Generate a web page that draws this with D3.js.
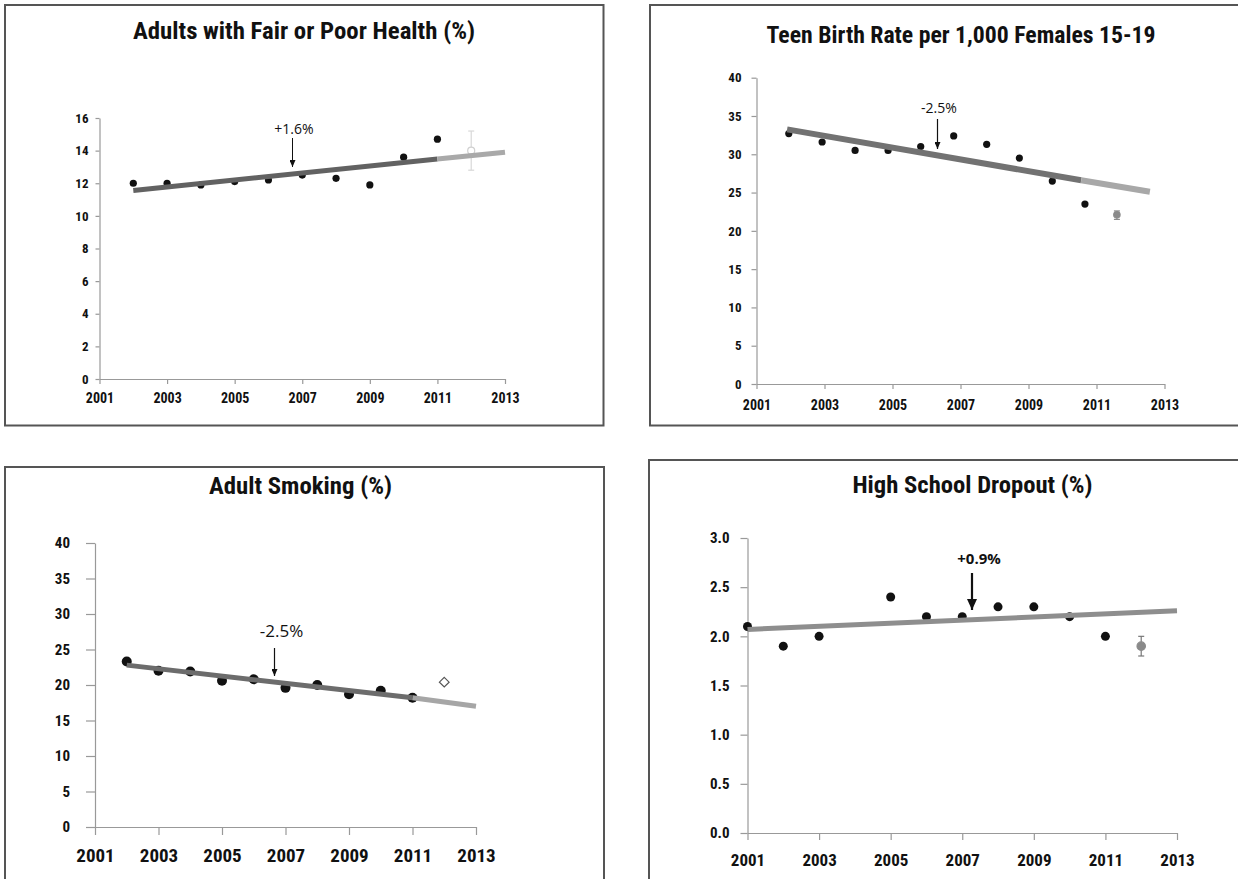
<!DOCTYPE html>
<html>
<head>
<meta charset="utf-8">
<script src="https://cdn.jsdelivr.net/npm/d3@7"></script>
<style>
  html, body { margin: 0; padding: 0; background: #fff; }
  svg { display: block; }
  text { font-family: "Liberation Sans Narrow", "Roboto Condensed", "Roboto", sans-serif; }
</style>
</head>
<body>
<svg id="chart" width="1238" height="879"></svg>
<script>
// ---------- DATA ----------
const xTickYears = [2001, 2003, 2005, 2007, 2009, 2011, 2013];

// Panel 1: Adults with Fair or Poor Health (%)
const healthTitle = "Adults with Fair or Poor Health (%)";
const healthYears = [2002, 2003, 2004, 2005, 2006, 2007, 2008, 2009, 2010, 2011];
const healthValues = [12.0, 12.0, 11.9, 12.1, 12.2, 12.5, 12.3, 11.9, 13.6, 14.7];
const healthEstYear = 2012, healthEstValue = 14.0, healthEstLow = 12.8, healthEstHigh = 15.2;
const healthTrendYears = [2002, 2011, 2013];
const healthTrendValues = [11.55, 13.49, 13.9];
const healthYTicks = [0, 2, 4, 6, 8, 10, 12, 14, 16];
const healthNote = "+1.6%";

// Panel 2: Teen Birth Rate per 1,000 Females 15-19
const teenTitle = "Teen Birth Rate per 1,000 Females 15-19";
const teenYears = [2001.95, 2002.93, 2003.9, 2004.87, 2005.83, 2006.8, 2007.77, 2008.73, 2009.7, 2010.66];
const teenValues = [32.7, 31.6, 30.5, 30.5, 31.0, 32.4, 31.3, 29.5, 26.5, 23.5];
const teenEstYear = 2011.6, teenEstValue = 22.1, teenEstLow = 21.5, teenEstHigh = 22.6;
const teenTrendYears = [2001.9, 2010.55, 2012.57];
const teenTrendValues = [33.25, 26.6, 25.1];
const teenYTicks = [0, 5, 10, 15, 20, 25, 30, 35, 40];
const teenNote = "-2.5%";

// Panel 3: Adult Smoking (%)
const smokeTitle = "Adult Smoking (%)";
const smokeYears = [2002, 2003, 2004, 2005, 2006, 2007, 2008, 2009, 2010, 2011];
const smokeValues = [23.3, 22.0, 21.9, 20.6, 20.8, 19.6, 20.0, 18.7, 19.2, 18.2];
const smokeEstYear = 2012, smokeEstValue = 20.4;
const smokeTrendYears = [2002, 2011, 2013];
const smokeTrendValues = [22.8, 18.2, 17.0];
const smokeYTicks = [0, 5, 10, 15, 20, 25, 30, 35, 40];
const smokeNote = "-2.5%";

// Panel 4: High School Dropout (%)
const dropTitle = "High School Dropout (%)";
const dropYears = [2001, 2002, 2003, 2005, 2006, 2007, 2008, 2009, 2010, 2011];
const dropValues = [2.1, 1.9, 2.0, 2.4, 2.2, 2.2, 2.3, 2.3, 2.2, 2.0];
const dropEstYear = 2012, dropEstValue = 1.9, dropEstLow = 1.8, dropEstHigh = 2.0;
const dropTrendYears = [2001, 2013];
const dropTrendValues = [2.07, 2.26];
const dropYTicks = [0, 0.5, 1.0, 1.5, 2.0, 2.5, 3.0];
const dropNote = "+0.9%";

// ---------- DRAWING ----------
const svg = d3.select("#chart");

const defs = svg.append("defs");
function marker(id, w, h) {
  defs.append("marker")
    .attr("id", id).attr("viewBox", `0 0 ${w} ${h}`)
    .attr("refX", w / 2).attr("refY", h)
    .attr("markerWidth", w).attr("markerHeight", h)
    .attr("markerUnits", "userSpaceOnUse")
    .attr("orient", "0")
    .append("path").attr("d", `M0,0 L${w},0 L${w/2},${h} Z`).attr("fill", "#111");
}
marker("headSmall", 6, 7);
marker("headBig", 10, 11);

function panel(cfg) {
  const g = svg.append("g");
  // border
  g.append("rect")
    .attr("x", cfg.box[0]).attr("y", cfg.box[1])
    .attr("width", cfg.box[2] - cfg.box[0]).attr("height", cfg.box[3] - cfg.box[1])
    .attr("fill", "none").attr("stroke", "#555").attr("stroke-width", 2);
  // title
  g.append("text")
    .attr("x", cfg.title.x).attr("y", cfg.title.y)
    .attr("text-anchor", "middle")
    .attr("font-size", 23).attr("font-weight", "bold").attr("fill", "#111")
    .attr("textLength", cfg.title.w).attr("lengthAdjust", "spacingAndGlyphs")
    .text(cfg.title.text);

  const x = d3.scaleLinear().domain([2001, 2013]).range([cfg.x0, cfg.x1]);
  const y = d3.scaleLinear().domain(cfg.yDomain).range([cfg.yBottom, cfg.yTop]);

  const xAxis = d3.axisBottom(x).tickValues(xTickYears).tickFormat(d3.format("d"))
    .tickSizeInner(cfg.xTick).tickSizeOuter(0).tickPadding(cfg.xPad);
  const yAxis = d3.axisLeft(y).tickValues(cfg.yTicks).tickFormat(cfg.yFmt)
    .tickSizeInner(cfg.yTick).tickSizeOuter(0).tickPadding(cfg.yPad);

  const gx = g.append("g").attr("transform", `translate(0,${cfg.yBottom})`).call(xAxis);
  const gy = g.append("g").attr("transform", `translate(${cfg.x0},0)`).call(yAxis);
  [gx, gy].forEach(a => {
    a.select(".domain").attr("stroke", "#999").attr("stroke-width", 1.2);
    a.selectAll(".tick line").attr("stroke", "#999").attr("stroke-width", 1.2);
    a.selectAll("text").attr("fill", "#111").attr("font-weight", "bold")
      .style("font-family", '"Liberation Sans Narrow", "Roboto Condensed", "Roboto", sans-serif');
  });
  gx.selectAll("text").attr("font-size", cfg.xFont);
  gy.selectAll("text").attr("font-size", cfg.yFont);

  // points
  g.append("g").selectAll("circle")
    .data(cfg.years.map((yr, i) => [yr, cfg.values[i]]))
    .join("circle")
    .attr("cx", d => x(d[0])).attr("cy", d => y(d[1]))
    .attr("r", cfg.r).attr("fill", "#111");

  // estimate with error bar
  if (cfg.est) {
    const e = cfg.est;
    const ex = x(e.year);
    if (e.low != null) {
      const eg = g.append("g").attr("stroke", e.barColor).attr("stroke-width", 1.2);
      eg.append("line").attr("x1", ex).attr("x2", ex).attr("y1", y(e.low)).attr("y2", y(e.high));
      eg.append("line").attr("x1", ex - 3).attr("x2", ex + 3).attr("y1", y(e.low)).attr("y2", y(e.low));
      eg.append("line").attr("x1", ex - 3).attr("x2", ex + 3).attr("y1", y(e.high)).attr("y2", y(e.high));
    }
    if (e.shape === "diamond") {
      g.append("path")
        .attr("d", d3.symbol().type(d3.symbolDiamond2).size(60)())
        .attr("transform", `translate(${ex},${y(e.value)})`)
        .attr("fill", "#fff").attr("stroke", "#555").attr("stroke-width", 1.2);
    } else {
      g.append("circle").attr("cx", ex).attr("cy", y(e.value)).attr("r", e.r)
        .attr("fill", e.fill).attr("stroke", e.stroke).attr("stroke-width", 1.2);
    }
  }

  // trend line segments
  for (let i = 0; i < cfg.trendYears.length - 1; i++) {
    g.append("line")
      .attr("x1", x(cfg.trendYears[i])).attr("y1", y(cfg.trendValues[i]))
      .attr("x2", x(cfg.trendYears[i + 1])).attr("y2", y(cfg.trendValues[i + 1]))
      .attr("stroke", cfg.trendColors[i]).attr("stroke-width", cfg.trendWidth);
  }

  // annotation
  const n = cfg.note;
  g.append("text").attr("x", n.tx).attr("y", n.ty).attr("text-anchor", "middle")
    .attr("font-size", n.size).attr("font-weight", n.weight).attr("fill", "#111")
    .style("font-family", '"Liberation Sans Narrow", "Open Sans", sans-serif')
    .text(n.text);
  g.append("line").attr("x1", n.ax).attr("x2", n.ax).attr("y1", n.ay1).attr("y2", n.ay2 - n.head)
    .attr("stroke", "#111").attr("stroke-width", n.sw)
    .attr("marker-end", `url(#${n.marker})`);
}

panel({
  box: [5, 5, 603.5, 425.5],
  title: { text: healthTitle, x: 304, y: 39, w: 342 },
  x0: 99.5, x1: 505, yBottom: 379, yTop: 118, yDomain: [0, 16],
  yTicks: healthYTicks, yFmt: d3.format("d"),
  xTick: 5, xPad: 9, yTick: 4, yPad: 7, xFont: 14, yFont: 13,
  years: healthYears, values: healthValues, r: 3.6,
  est: { year: healthEstYear, value: healthEstValue, low: healthEstLow, high: healthEstHigh,
         barColor: "#d8d8d8", fill: "#fff", stroke: "#d0d0d0", r: 3.5 },
  trendYears: healthTrendYears, trendValues: healthTrendValues,
  trendColors: ["#626262", "#a9a9a9"], trendWidth: 5,
  note: { text: healthNote, tx: 294, ty: 134, size: 14, weight: "normal",
          ax: 292.5, ay1: 138, ay2: 167, head: 0, sw: 1, marker: "headSmall" }
});

panel({
  box: [650, 5, 1245, 425.5],
  title: { text: teenTitle, x: 961, y: 43, w: 389 },
  x0: 756.5, x1: 1164.5, yBottom: 384, yTop: 77.7, yDomain: [0, 40],
  yTicks: teenYTicks, yFmt: d3.format("d"),
  xTick: 5, xPad: 11, yTick: 5, yPad: 10, xFont: 14, yFont: 13,
  years: teenYears, values: teenValues, r: 3.6,
  est: { year: teenEstYear, value: teenEstValue, low: teenEstLow, high: teenEstHigh,
         barColor: "#888", fill: "#8a8a8a", stroke: "#8a8a8a", r: 3.2 },
  trendYears: teenTrendYears, trendValues: teenTrendValues,
  trendColors: ["#727272", "#a8a8a8"], trendWidth: 6,
  note: { text: teenNote, tx: 939, ty: 113, size: 14, weight: "normal",
          ax: 937.5, ay1: 119, ay2: 149, head: 0, sw: 1.2, marker: "headSmall" }
});

panel({
  box: [5, 467, 604, 885],
  title: { text: smokeTitle, x: 300.5, y: 494, w: 183 },
  x0: 95, x1: 476, yBottom: 827, yTop: 543, yDomain: [0, 40],
  yTicks: smokeYTicks, yFmt: d3.format("d"),
  xTick: 8, xPad: 14, yTick: 9, yPad: 16, xFont: 19, yFont: 15,
  years: smokeYears, values: smokeValues, r: 5,
  est: { year: smokeEstYear, value: smokeEstValue, shape: "diamond" },
  trendYears: smokeTrendYears, trendValues: smokeTrendValues,
  trendColors: ["#6c6c6c", "#a6a6a6"], trendWidth: 5,
  note: { text: smokeNote, tx: 281.5, ty: 637, size: 17, weight: "normal",
          ax: 274.5, ay1: 648, ay2: 676, head: 0, sw: 1.2, marker: "headSmall" }
});

panel({
  box: [649, 460, 1245, 885],
  title: { text: dropTitle, x: 972.5, y: 493, w: 240 },
  x0: 747.5, x1: 1177, yBottom: 833, yTop: 538, yDomain: [0, 3],
  yTicks: dropYTicks, yFmt: d3.format(".1f"),
  xTick: 7, xPad: 14, yTick: 7, yPad: 11, xFont: 17, yFont: 15,
  years: dropYears, values: dropValues, r: 4.5,
  est: { year: dropEstYear, value: dropEstValue, low: dropEstLow, high: dropEstHigh,
         barColor: "#777", fill: "#8a8a8a", stroke: "#8a8a8a", r: 4.2 },
  trendYears: dropTrendYears, trendValues: dropTrendValues,
  trendColors: ["#8e8e8e"], trendWidth: 5,
  note: { text: dropNote, tx: 979, ty: 564, size: 15, weight: "bold",
          ax: 972, ay1: 573, ay2: 610, head: 0, sw: 2.2, marker: "headBig" }
});
</script>
</body>
</html>
